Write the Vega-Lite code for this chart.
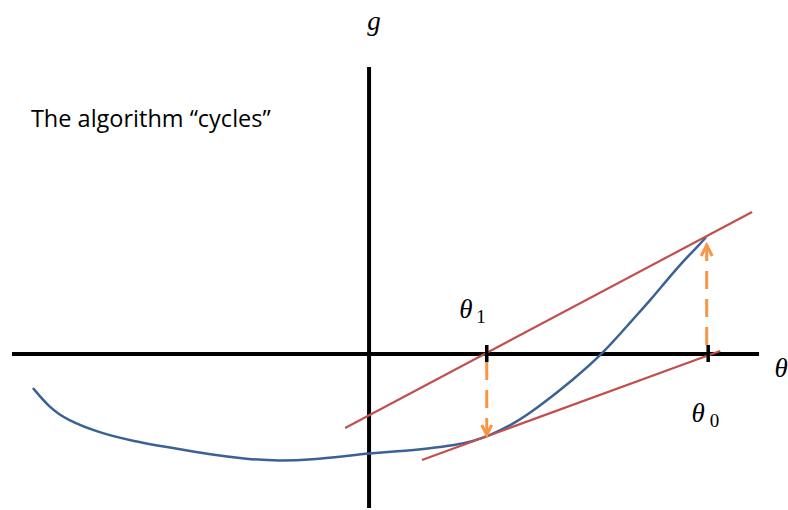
{
  "$schema": "https://vega.github.io/schema/vega-lite/v6.json",
  "width": 788,
  "height": 510,
  "autosize": {"type": "fit", "contains": "padding"},
  "padding": 0,
  "background": "white",
  "config": {"view": {"stroke": null}},
  "datasets": {
    "axes": [
      {"x1": -3.58, "y1": 0, "x2": 3.91, "y2": 0},
      {"x1": 0, "y1": 2.87, "x2": 0, "y2": -1.54}
    ],
    "ticks": [
      {"x1": 1.18, "y1": 0.09, "x2": 1.18, "y2": -0.08},
      {"x1": 3.40, "y1": 0.09, "x2": 3.40, "y2": -0.08}
    ],
    "tangents": [
      {"x1": -0.24, "y1": -0.74, "x2": 3.84, "y2": 1.42},
      {"x1": 0.53, "y1": -1.06, "x2": 3.52, "y2": 0.03}
    ],
    "shafts": [
      {"x1": 1.18, "y1": -0.08, "x2": 1.18, "y2": -0.79},
      {"x1": 3.385, "y1": 0.09, "x2": 3.385, "y2": 1.07}
    ],
    "heads": [
      {"id": "a", "x": 1.13, "y": -0.71},
      {"id": "a", "x": 1.18, "y": -0.81},
      {"id": "a", "x": 1.23, "y": -0.71},
      {"id": "b", "x": 3.33, "y": 0.98},
      {"id": "b", "x": 3.385, "y": 1.09},
      {"id": "b", "x": 3.44, "y": 0.98}
    ],
    "curve": [
      {"x": -3.37, "y": -0.34},
      {"x": -3.20, "y": -0.54},
      {"x": -3.03, "y": -0.66},
      {"x": -2.70, "y": -0.79},
      {"x": -2.37, "y": -0.87},
      {"x": -2.03, "y": -0.93},
      {"x": -1.57, "y": -1.01},
      {"x": -1.23, "y": -1.05},
      {"x": -0.90, "y": -1.07},
      {"x": -0.57, "y": -1.055},
      {"x": -0.23, "y": -1.02},
      {"x": 0.00, "y": -0.995},
      {"x": 0.27, "y": -0.975},
      {"x": 0.60, "y": -0.945},
      {"x": 0.87, "y": -0.91},
      {"x": 1.03, "y": -0.875},
      {"x": 1.20, "y": -0.82},
      {"x": 1.45, "y": -0.70},
      {"x": 1.70, "y": -0.53},
      {"x": 2.03, "y": -0.27},
      {"x": 2.35, "y": 0.01},
      {"x": 2.63, "y": 0.33},
      {"x": 2.83, "y": 0.55},
      {"x": 2.97, "y": 0.72},
      {"x": 3.10, "y": 0.87},
      {"x": 3.20, "y": 0.98},
      {"x": 3.30, "y": 1.08},
      {"x": 3.38, "y": 1.17}
    ],
    "mathlabels": [
      {"x": 0.05, "y": 3.24, "t": "g", "a": "center"},
      {"x": 0.97, "y": 0.36, "t": "θ", "a": "left"},
      {"x": 3.30, "y": -0.68, "t": "θ", "a": "left"},
      {"x": 4.13, "y": -0.23, "t": "θ", "a": "left"}
    ],
    "subs": [
      {"x": 1.075, "y": 0.31, "t": "1"},
      {"x": 3.415, "y": -0.73, "t": "0"}
    ],
    "caption": [
      {"x": -3.39, "y": 2.27, "t": "The algorithm “cycles”"}
    ]
  },
  "layer": [
    {
      "data": {"name": "axes"},
      "mark": {"type": "rule", "color": "#000000", "strokeWidth": 4},
      "encoding": {
        "x": {"field": "x1", "type": "quantitative", "scale": {"domain": [-3.70, 4.18], "nice": false, "zero": false}, "axis": null},
        "y": {"field": "y1", "type": "quantitative", "scale": {"domain": [-1.56, 3.54], "nice": false, "zero": false}, "axis": null},
        "x2": {"field": "x2"},
        "y2": {"field": "y2"}
      }
    },
    {
      "data": {"name": "curve"},
      "mark": {"type": "line", "color": "#3b6296", "strokeWidth": 2.5, "interpolate": "basis"},
      "encoding": {
        "x": {"field": "x", "type": "quantitative"},
        "y": {"field": "y", "type": "quantitative"}
      }
    },
    {
      "data": {"name": "tangents"},
      "mark": {"type": "rule", "color": "#c0504d", "strokeWidth": 2.2},
      "encoding": {
        "x": {"field": "x1", "type": "quantitative"},
        "y": {"field": "y1", "type": "quantitative"},
        "x2": {"field": "x2"},
        "y2": {"field": "y2"}
      }
    },
    {
      "data": {"name": "shafts"},
      "mark": {"type": "rule", "color": "#f79646", "strokeWidth": 3, "strokeDash": [18, 10]},
      "encoding": {
        "x": {"field": "x1", "type": "quantitative"},
        "y": {"field": "y1", "type": "quantitative"},
        "x2": {"field": "x2"},
        "y2": {"field": "y2"}
      }
    },
    {
      "data": {"name": "heads"},
      "mark": {"type": "line", "color": "#f79646", "strokeWidth": 3},
      "encoding": {
        "x": {"field": "x", "type": "quantitative"},
        "y": {"field": "y", "type": "quantitative"},
        "detail": {"field": "id"},
        "order": {"value": 0}
      }
    },
    {
      "data": {"name": "ticks"},
      "mark": {"type": "rule", "color": "#000000", "strokeWidth": 3.5},
      "encoding": {
        "x": {"field": "x1", "type": "quantitative"},
        "y": {"field": "y1", "type": "quantitative"},
        "x2": {"field": "x2"},
        "y2": {"field": "y2"}
      }
    },
    {
      "data": {"name": "mathlabels"},
      "mark": {"type": "text", "font": "Liberation Serif", "fontStyle": "italic", "fontSize": 27, "color": "#000000", "baseline": "alphabetic"},
      "encoding": {
        "x": {"field": "x", "type": "quantitative"},
        "y": {"field": "y", "type": "quantitative"},
        "text": {"field": "t"},
        "align": {"field": "a", "type": "nominal", "scale": null}
      }
    },
    {
      "data": {"name": "subs"},
      "mark": {"type": "text", "font": "Liberation Serif", "fontSize": 19, "color": "#000000", "baseline": "alphabetic", "align": "left"},
      "encoding": {
        "x": {"field": "x", "type": "quantitative"},
        "y": {"field": "y", "type": "quantitative"},
        "text": {"field": "t"}
      }
    },
    {
      "data": {"name": "caption"},
      "mark": {"type": "text", "font": "Open Sans", "fontSize": 23.5, "color": "#000000", "baseline": "alphabetic", "align": "left"},
      "encoding": {
        "x": {"field": "x", "type": "quantitative"},
        "y": {"field": "y", "type": "quantitative"},
        "text": {"field": "t"}
      }
    }
  ]
}
